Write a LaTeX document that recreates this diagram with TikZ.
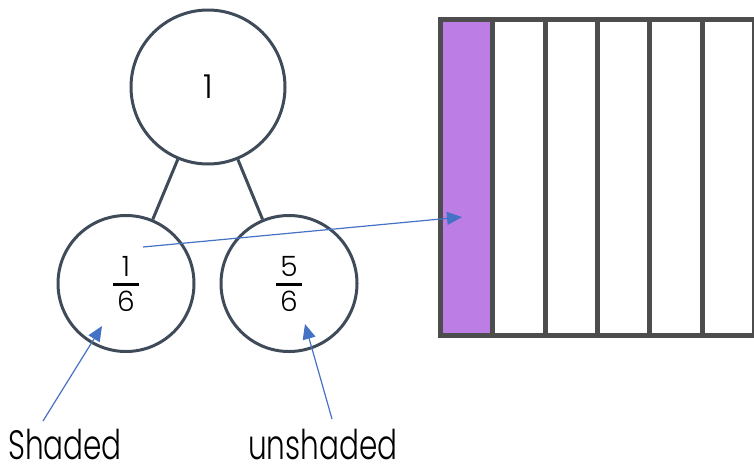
\documentclass[tikz,border=0pt]{standalone}
\usepackage{fontspec}
\IfFontExistsTF{Poppins Light}{\setmainfont{Poppins Light}}{\setmainfont{Poppins}}
\usetikzlibrary{arrows.meta}
\definecolor{ring}{HTML}{404B5A}
\definecolor{barline}{HTML}{4D4D4D}
\definecolor{lilac}{HTML}{BC7EE4}
\definecolor{arrowblue}{HTML}{4472C4}
\tikzset{
  bigcirc/.style={circle,draw=ring,line width=3pt,minimum size=154pt,inner sep=0pt},
  smallcirc/.style={circle,draw=ring,line width=3pt,minimum size=136pt,inner sep=0pt},
  link/.style={draw=ring,line width=3pt},
  digit/.style={inner sep=0pt,font=\fontsize{28}{28}\selectfont},
  fracbar/.style={line width=3pt,draw=black},
  pointer/.style={draw=arrowblue,line width=1.2pt,-{Triangle[length=15pt,width=13pt]}},
  label/.style={inner sep=0pt,font=\fontsize{41}{41}\selectfont},
  cellline/.style={draw=barline,line width=5pt}
}
\newcommand{\narrow}[1]{\scalebox{0.72}[1]{#1}}
\begin{document}
\begin{tikzpicture}[x=1pt,y=-1pt]
\useasboundingbox (0,0) rectangle (754,466);
% bar
\fill[lilac] (440.5,19.5) rectangle (492.8,335.5);
\foreach \xx in {492.8,545.1,597.4,649.7,702}
  \draw[cellline] (\xx,19.5) -- (\xx,335.5);
\draw[cellline] (440.5,19.5) rectangle (754.5,335.5);
% circles
\node[bigcirc,font=\fontsize{33}{33}\selectfont] (top) at (208,87) {1};
\node[smallcirc] (l) at (126,283.5) {};
\node[smallcirc] (r) at (289,283.5) {};
\draw[link] (top) -- (l);
\draw[link] (top) -- (r);
% fractions
\node[digit] (ln) at (126,266) {1};
\node[digit] (ld) at (126,301) {6};
\draw[fracbar] (113,284) -- (139,284);
\node[digit] (rn) at (289,266) {5};
\node[digit] (rd) at (289,301) {6};
\draw[fracbar] (276,284) -- (302,284);
% labels
\node[label,anchor=base west] (sh) at (8,459) {\narrow{Shaded}};
\node[label,anchor=base west] (un) at (248,459) {\narrow{unshaded}};
% pointers
\coordinate (a0) at (143,247);
\coordinate (a1) at (462,217);
\coordinate (b0) at (43,421);
\coordinate (b1) at (102,326);
\coordinate (c0) at (332,419);
\coordinate (c1) at (305,324);
\draw[pointer] (a0) -- (a1);
\draw[pointer] (b0) -- (b1);
\draw[pointer] (c0) -- (c1);
\end{tikzpicture}
\end{document}
